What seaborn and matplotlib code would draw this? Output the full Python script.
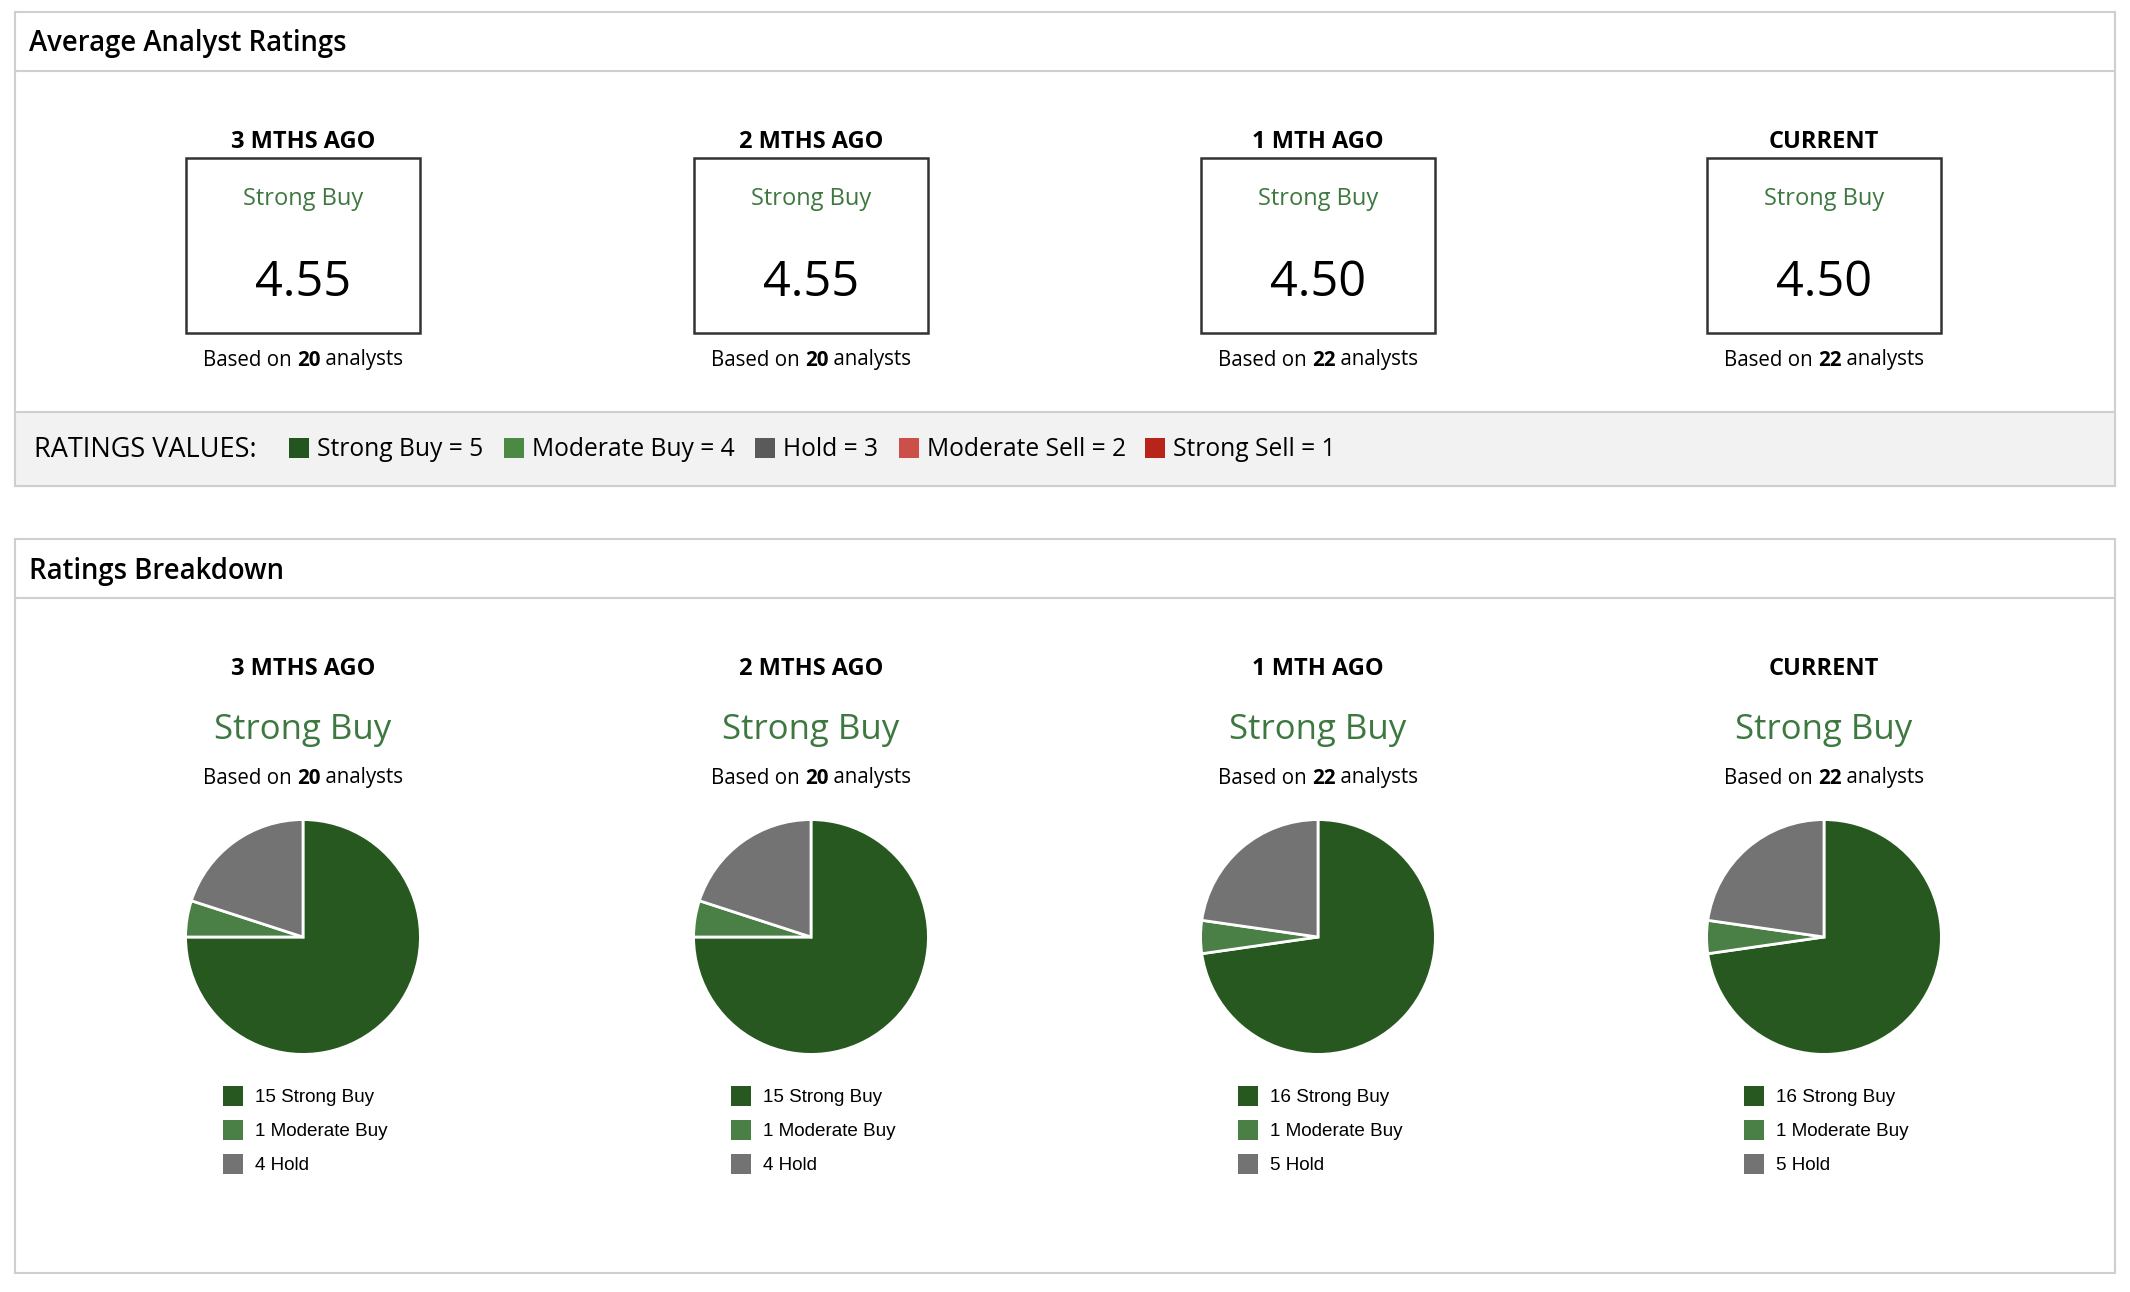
import matplotlib
matplotlib.use("Agg")
import matplotlib.pyplot as plt
from matplotlib.patches import Rectangle
import seaborn as sns
import pandas as pd

# ---------------- data ----------------
periods = ["3 MTHS AGO", "2 MTHS AGO", "1 MTH AGO", "CURRENT"]
consensus = ["Strong Buy", "Strong Buy", "Strong Buy", "Strong Buy"]
avg_ratings = [4.55, 4.55, 4.50, 4.50]
analysts = [20, 20, 22, 22]
strong_buy = [15, 15, 16, 16]
moderate_buy = [1, 1, 1, 1]
hold = [4, 4, 5, 5]
rating_names = ["Strong Buy", "Moderate Buy", "Hold", "Moderate Sell", "Strong Sell"]
rating_values = [5, 4, 3, 2, 1]

# ---------------- style ----------------
sns.set_theme(style="white")
plt.rcParams["font.family"] = ["Open Sans", "DejaVu Sans"]
plt.rcParams["text.color"] = "black"

W, H = 2130, 1292
DPI = 100
fig = plt.figure(figsize=(W / DPI, H / DPI), dpi=DPI)
fig.patch.set_facecolor("white")
bg = fig.add_axes([0, 0, 1, 1])
bg.set_xlim(0, W)
bg.set_ylim(H, 0)
bg.axis("off")

BORDER = "#cfcfcf"
GREEN_TXT = "#3d7840"
pie_colors = ["#26581f", "#4a8045", "#737373"]
legend_colors = ["#245420", "#4a8a45", "#5a5a5a", "#cc4f4a", "#b8231a"]

col_x = [303, 811, 1318, 1824]

renderer = fig.canvas.get_renderer()


def mixed_text(xc, y, parts, size, color="black"):
    """parts: list of (text, weight); centered at xc."""
    objs = []
    for t, w in parts:
        objs.append(bg.text(0, y, t, fontsize=size, fontweight=w, color=color,
                            ha="left", va="center"))
    widths = [o.get_window_extent(renderer).width for o in objs]
    total = sum(widths)
    x = xc - total / 2
    for o, wdt in zip(objs, widths):
        o.set_x(x)
        x += wdt


# ---------------- top panel ----------------
bg.add_patch(Rectangle((15, 12), 2100, 474, fill=False, ec=BORDER, lw=1.5))
bg.plot([15, 2115], [71, 71], color=BORDER, lw=1.5)
bg.add_patch(Rectangle((15, 412), 2100, 74, fc="#f2f2f2", ec=BORDER, lw=1.5))
bg.text(29, 44, "Average Analyst Ratings", fontsize=19.8, fontweight="semibold",
        ha="left", va="center")

for i, xc in enumerate(col_x):
    bg.text(xc, 142, periods[i], fontsize=17, fontweight="bold", ha="center", va="center")
    bg.add_patch(Rectangle((xc - 117, 158), 234, 175, fill=False, ec="#333333", lw=1.8))
    bg.text(xc, 199, consensus[i], fontsize=17, color=GREEN_TXT, ha="center", va="center")
    bg.text(xc, 283, f"{avg_ratings[i]:.2f}", fontsize=35, ha="center", va="center")
    mixed_text(xc, 360, [("Based on ", "normal"), (str(analysts[i]), "bold"),
                         (" analysts", "normal")], 14.8)

# ratings values legend
bg.text(34, 450, "RATINGS VALUES:", fontsize=19.5, ha="left", va="center")
leg_x = [289, 504, 755, 899, 1145]
for j, name in enumerate(rating_names):
    bg.add_patch(Rectangle((leg_x[j], 438), 20, 20, fc=legend_colors[j], ec="none"))
    bg.text(leg_x[j] + 28, 450, f"{name} = {rating_values[j]}", fontsize=17.7,
            ha="left", va="center")

# ---------------- bottom panel ----------------
bg.add_patch(Rectangle((15, 539), 2100, 734, fill=False, ec=BORDER, lw=1.5))
bg.plot([15, 2115], [598, 598], color=BORDER, lw=1.5)
bg.text(29, 572, "Ratings Breakdown", fontsize=19.8, fontweight="semibold",
        ha="left", va="center")

R = 118
PCY = 937
for i, xc in enumerate(col_x):
    bg.text(xc, 669, periods[i], fontsize=17, fontweight="bold", ha="center", va="center")
    bg.text(xc, 730, consensus[i], fontsize=25, color=GREEN_TXT, ha="center", va="center")
    mixed_text(xc, 778, [("Based on ", "normal"), (str(analysts[i]), "bold"),
                         (" analysts", "normal")], 14.8)

    ax = fig.add_axes([(xc - R) / W, 1 - (PCY + R) / H, 2 * R / W, 2 * R / H])
    counts = [strong_buy[i], moderate_buy[i], hold[i]]
    ax.pie(counts, colors=pie_colors, startangle=90, counterclock=False, radius=1,
           wedgeprops=dict(edgecolor="white", linewidth=2))
    ax.set_xlim(-1.005, 1.005)
    ax.set_ylim(-1.005, 1.005)
    ax.axis("off")

    # legend squares via seaborn
    labels = [f"{strong_buy[i]} Strong Buy", f"{moderate_buy[i]} Moderate Buy",
              f"{hold[i]} Hold"]
    ys = [1096, 1130, 1164]
    df = pd.DataFrame({"x": [xc - 70] * 3, "y": ys, "k": labels})
    sns.scatterplot(data=df, x="x", y="y", hue="k", palette=pie_colors, marker="s",
                    s=225, edgecolor="none", legend=False, ax=bg)
    for lab, yy in zip(labels, ys):
        bg.text(xc - 48, yy + 1, lab, fontsize=13.6, ha="left", va="center",
                family=["Liberation Sans", "DejaVu Sans"])

bg.set_xlim(0, W)
bg.set_ylim(H, 0)
bg.axis("off")

fig.savefig("out.png", dpi=DPI, facecolor="white")
